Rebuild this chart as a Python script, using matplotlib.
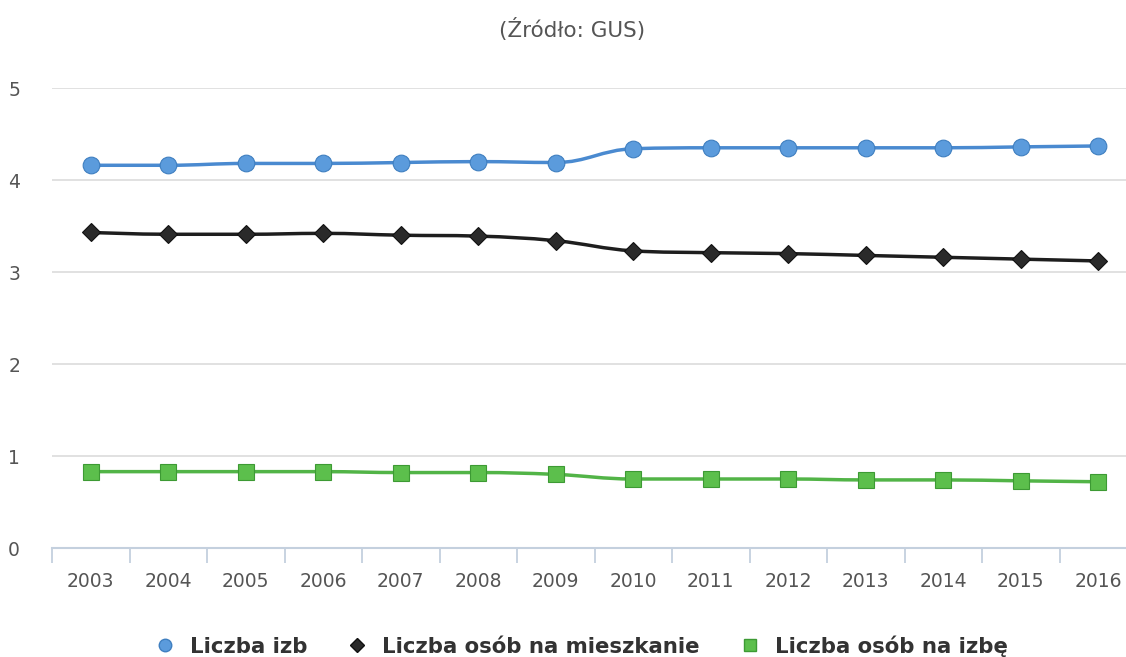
import matplotlib
matplotlib.use("Agg")
import matplotlib.pyplot as plt
from matplotlib.path import Path
from matplotlib.patches import PathPatch
from matplotlib.lines import Line2D
from matplotlib.ticker import FixedLocator

years = ["2003", "2004", "2005", "2006", "2007", "2008", "2009",
         "2010", "2011", "2012", "2013", "2014", "2015", "2016"]
liczba_izb = [4.16, 4.16, 4.18, 4.18, 4.19, 4.20, 4.19,
              4.34, 4.35, 4.35, 4.35, 4.35, 4.36, 4.37]
osob_na_mieszkanie = [3.43, 3.41, 3.41, 3.42, 3.40, 3.39, 3.34,
                      3.23, 3.21, 3.20, 3.18, 3.16, 3.14, 3.12]
osob_na_izbe = [0.83, 0.83, 0.83, 0.83, 0.82, 0.82, 0.80,
                0.75, 0.75, 0.75, 0.74, 0.74, 0.73, 0.72]

plt.rcParams['font.family'] = ['DejaVu Sans']


def spline_path(xs, ys, smoothing=1.5):
    # highcharts-like spline: cubic bezier between points
    denom = smoothing + 1
    n = len(xs)
    left = [None] * n
    right = [None] * n
    for i in range(1, n - 1):
        px, py = xs[i], ys[i]
        lx, ly = xs[i - 1], ys[i - 1]
        nx, ny = xs[i + 1], ys[i + 1]
        lcx = (smoothing * px + lx) / denom
        lcy = (smoothing * py + ly) / denom
        rcx = (smoothing * px + nx) / denom
        rcy = (smoothing * py + ny) / denom
        corr = (rcy - lcy) * (rcx - px) / (rcx - lcx) + py - rcy
        lcy += corr
        rcy += corr
        if lcy > ly and lcy > py:
            lcy = max(ly, py)
            rcy = 2 * py - lcy
        elif lcy < ly and lcy < py:
            lcy = min(ly, py)
            rcy = 2 * py - lcy
        if rcy > ny and rcy > py:
            rcy = max(ny, py)
            lcy = 2 * py - rcy
        elif rcy < ny and rcy < py:
            rcy = min(ny, py)
            lcy = 2 * py - rcy
        left[i] = (lcx, lcy)
        right[i] = (rcx, rcy)
    verts = [(xs[0], ys[0])]
    codes = [Path.MOVETO]
    for i in range(1, n):
        c1 = right[i - 1] if right[i - 1] else (xs[i - 1], ys[i - 1])
        c2 = left[i] if left[i] else (xs[i], ys[i])
        verts += [c1, c2, (xs[i], ys[i])]
        codes += [Path.CURVE4] * 3
    return Path(verts, codes)


fig = plt.figure(figsize=(11.26, 6.57), dpi=100)
ax = fig.add_axes([52 / 1126, 1 - 548 / 657, 1085 / 1126, 460 / 657])

x = list(range(len(years)))

series = [
    (liczba_izb, "Liczba izb", "#4a8ad0", "o", 12, 9, "#5b9bdc", "#3f7fc0"),
    (osob_na_mieszkanie, "Liczba osób na mieszkanie", "#1e1e1e", "D", 9.5, 7, "#2a2a2a", "#111111"),
    (osob_na_izbe, "Liczba osób na izbę", "#52b447", "s", 11, 9, "#5cbf4c", "#3d9a34"),
]

handles = []
for vals, label, lc, mk, ms, lms, fc, ec in series:
    patch = PathPatch(spline_path(x, vals), facecolor="none", edgecolor=lc,
                      lw=2.5, zorder=3, capstyle="round", joinstyle="round")
    ax.add_patch(patch)
    ax.plot(x, vals, linestyle="none", marker=mk, markersize=ms,
            markerfacecolor=fc, markeredgecolor=ec, markeredgewidth=0.8, zorder=4)
    handles.append(Line2D([], [], linestyle="none", marker=mk, markersize=lms,
                          markerfacecolor=fc, markeredgecolor=ec, label=label))

ax.set_xlim(-0.5, len(years) - 0.5)
ax.set_ylim(0, 5)
ax.set_yticks([0, 1, 2, 3, 4, 5])
ax.set_xticks(x)
ax.set_xticklabels(years)
ax.xaxis.set_minor_locator(FixedLocator([i - 0.5 for i in range(len(years) + 1)]))

ax.grid(axis="y", color="#dcdcdc", linewidth=1.2)
ax.set_axisbelow(True)
for side in ["top", "right", "left"]:
    ax.spines[side].set_visible(False)
ax.spines["bottom"].set_color("#c4d0de")
ax.spines["bottom"].set_linewidth(1.5)

ax.tick_params(axis="x", which="major", length=0, pad=17, labelsize=13.5, labelcolor="#555555")
ax.tick_params(axis="x", which="minor", length=11, width=1.3, color="#c4d0de")
ax.tick_params(axis="y", length=0, pad=23, labelsize=13.5, labelcolor="#555555")

fig.text(572 / 1126, 1 - 30 / 657, "(Źródło: GUS)", ha="center", va="center",
         fontsize=15.5, color="#555555")

fig.legend(handles=handles, loc="center", bbox_to_anchor=(582 / 1126, 1 - 646 / 657),
           ncol=3, frameon=False, columnspacing=1.95, handlelength=0.8,
           handletextpad=0.78, prop={"weight": "bold", "size": 15.3},
           labelcolor="#333333")

fig.savefig("out.png", dpi=100)
